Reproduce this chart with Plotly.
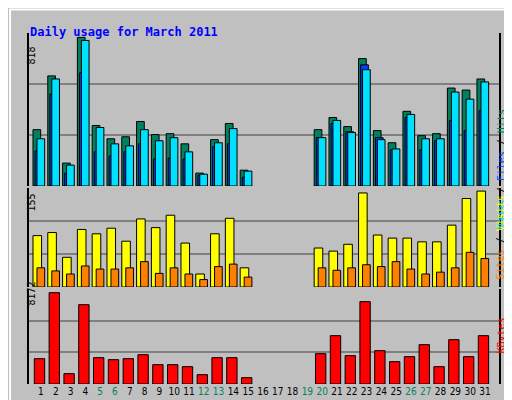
import plotly.graph_objects as go

days = list(range(1, 32))
active = [1, 2, 3, 4, 5, 6, 7, 8, 9, 10, 11, 12, 13, 14, 15,
          20, 21, 22, 23, 24, 25, 26, 27, 28, 29, 30, 31]
weekends = [5, 6, 12, 13, 19, 20, 26, 27]

hits = [310, 606, 126, 818, 333, 260, 271, 355, 283, 288, 232, 71, 255, 344, 87,
        310, 377, 327, 701, 305, 238, 411, 277, 288, 539, 528, 589]
files = [260, 589, 115, 801, 322, 232, 221, 310, 249, 266, 188, 65, 238, 316, 82,
         266, 361, 294, 640, 255, 204, 394, 260, 260, 517, 478, 573]
pages = [193, 506, 71, 623, 188, 165, 188, 232, 149, 154, 149, 59, 216, 232, 48,
         266, 344, 299, 667, 266, 199, 377, 199, 249, 361, 305, 416]
visits = [83, 88, 48, 93, 86, 95, 74, 110, 96, 116, 71, 21, 86, 111, 31,
          63, 58, 69, 152, 84, 79, 79, 73, 73, 100, 143, 155]
sites = [31, 26, 21, 34, 29, 29, 31, 41, 22, 31, 21, 12, 33, 37, 16,
         31, 27, 31, 36, 33, 41, 29, 21, 24, 31, 56, 46]
kbytes = [2266, 8172, 924, 7097, 2356, 2177, 2266, 2624, 1730, 1730, 1551, 835, 2356, 2356, 567,
          2714, 4324, 2535, 7366, 2982, 1998, 2445, 3519, 1551, 3966, 2445, 4324]

BG = "#C0C0C0"
line = dict(color="black", width=1)

fig = go.Figure()
fig.add_bar(x=active, y=hits, offset=-0.54, width=0.52, marker=dict(color="#00805F", line=line), xaxis="x3", yaxis="y3")
fig.add_bar(x=active, y=pages, offset=-0.40, width=0.52, marker=dict(color="#0040FF", line=line), xaxis="x3", yaxis="y3")
fig.add_bar(x=active, y=files, offset=-0.27, width=0.52, marker=dict(color="#00E0FF", line=line), xaxis="x3", yaxis="y3")
fig.add_bar(x=active, y=visits, offset=-0.54, width=0.58, marker=dict(color="#FFFF00", line=line), xaxis="x2", yaxis="y2")
fig.add_bar(x=active, y=sites, offset=-0.27, width=0.52, marker=dict(color="#FF8000", line=line), xaxis="x2", yaxis="y2")
fig.add_bar(x=active, y=kbytes, offset=-0.45, width=0.70, marker=dict(color="#FF0000", line=line), xaxis="x", yaxis="y")


def yax(top, dom, anchor):
    return dict(domain=dom, range=[0, top], tickvals=[top / 3, 2 * top / 3], anchor=anchor,
                showticklabels=False, ticks="", showgrid=True, gridcolor="#808080",
                gridwidth=1.5, zeroline=False, showline=True, linecolor="black",
                linewidth=2, mirror=True)


ticktext = [f'<span style="color:#00805F">{d}</span>' if d in weekends else str(d) for d in days]
xr = [0.19, 31.95]
fig.update_layout(
    width=512, height=400, margin=dict(l=0, r=0, t=0, b=0),
    paper_bgcolor=BG, plot_bgcolor=BG, showlegend=False, barmode="overlay",
    font=dict(family="DejaVu Sans Mono", size=11, color="black"),
    xaxis=dict(domain=[0.041, 0.959], range=xr, tickvals=days, ticktext=ticktext,
               tickangle=0, tickfont=dict(size=10, family="DejaVu Sans Condensed"),
               automargin=False, ticks="", showgrid=False, zeroline=False, anchor="y"),
    xaxis2=dict(domain=[0.041, 0.959], range=xr, visible=False, anchor="y2"),
    xaxis3=dict(domain=[0.041, 0.959], range=xr, visible=False, anchor="y3"),
    yaxis=yax(8500, [0.06, 0.2975], "x"),
    yaxis2=yax(160, [0.3025, 0.55], "x2"),
    yaxis3=yax(842, [0.555, 0.9375], "x3"),
)

side = dict(size=10)
ann = [
    dict(x=20, y=15, text="<b>Daily usage for March 2011</b>", font=dict(color="#0000FF", size=12), xanchor="left"),
    dict(x=15, y=37, text="818", textangle=-90, font=side),
    dict(x=15, y=195, text="155", textangle=-90, font=side),
    dict(x=15, y=300, text="8172", textangle=-90, font=side),
    dict(x=500, y=100, textangle=-90, font=side,
         text='<span style="color:#00E0FF">Pages</span> / <span style="color:#0040FF">Files</span> / <span style="color:#00805F">Hits</span>'),
    dict(x=500, y=230, textangle=-90, font=side,
         text='<span style="color:#FF8000">Sites</span> / <span style="color:#FFFF00">Visits</span>'),
    dict(x=500, y=348, textangle=-90, font=side, text='<span style="color:#FF0000">KBytes</span>'),
]
for a in ann:
    fig.add_annotation(xref="paper", yref="paper", x=a.pop("x") / 512, y=1 - a.pop("y") / 400,
                       showarrow=False, **a)

fig.add_shape(type="rect", xref="paper", yref="paper", x0=0.004, y0=0.004, x1=0.996, y1=0.996,
              line=dict(color="white", width=2))
fig.add_shape(type="line", xref="paper", yref="paper", x0=0.994, y0=0.01, x1=0.994, y1=0.99,
              line=dict(color="#808080", width=4))
fig.add_shape(type="line", xref="paper", yref="paper", x0=0.01, y0=0.006, x1=0.994, y1=0.006,
              line=dict(color="#808080", width=4))

fig.write_html("out.html")
